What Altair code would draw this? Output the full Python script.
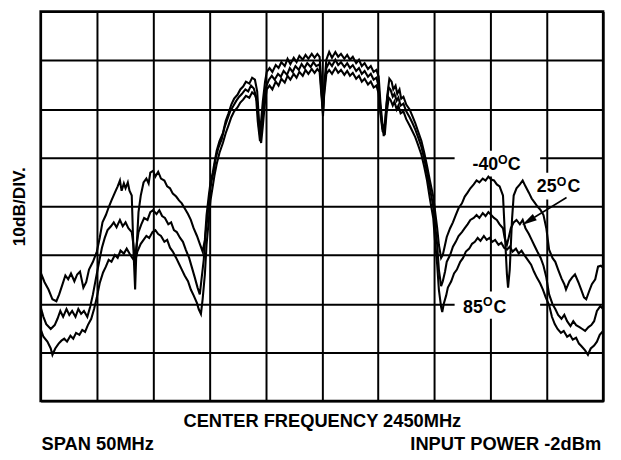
import altair as alt
import pandas as pd

FONT = "Liberation Sans"

# Spectrum traces: (frequency MHz, level dB, 10 dB/div, top of screen = 0 dB)
t40 = [(2425.0, -53.6), (2425.35, -55.6), (2425.7, -57.1), (2426.05, -59.1), (2426.4, -59.5), (2426.65, -58.1),
       (2426.95, -56.0), (2427.2, -54.2), (2427.45, -55.0), (2427.7, -53.8), (2428.0, -55.4), (2428.25, -54.0),
       (2428.5, -53.4), (2428.8, -56.7), (2429.05, -55.6), (2429.3, -53.0), (2429.65, -51.4), (2430.0, -49.3),
       (2430.25, -46.5), (2430.5, -43.3), (2430.8, -41.8), (2431.05, -40.2), (2431.3, -38.8), (2431.6, -37.2),
       (2431.85, -35.9), (2432.05, -34.7), (2432.2, -36.8), (2432.4, -35.3), (2432.55, -36.3), (2432.75, -35.1),
       (2432.9, -36.8), (2433.1, -37.8), (2433.25, -48.9), (2433.4, -57.1), (2433.5, -50.0), (2433.7, -41.2),
       (2433.9, -37.8), (2434.15, -35.1), (2434.4, -34.3), (2434.6, -35.3), (2434.75, -33.1), (2435.0, -32.7),
       (2435.2, -33.9), (2435.45, -32.9), (2435.7, -34.3), (2436.0, -34.7), (2436.25, -35.9), (2436.5, -36.3),
       (2436.75, -37.4), (2437.05, -38.0), (2437.3, -38.8), (2437.55, -39.4), (2437.8, -40.4), (2438.1, -41.6),
       (2438.35, -42.8), (2438.6, -44.5), (2438.9, -46.1), (2439.15, -47.7), (2439.4, -49.3), (2439.6, -46.9),
       (2439.75, -41.8), (2439.95, -37.8), (2440.1, -35.1), (2440.3, -33.1), (2440.45, -31.1), (2440.65, -28.6),
       (2440.9, -26.6), (2441.2, -25.0), (2441.45, -22.5), (2441.7, -20.9), (2441.95, -19.1), (2442.2, -17.9),
       (2442.5, -17.1), (2442.75, -16.0), (2443.0, -15.4), (2443.25, -14.4), (2443.55, -14.8), (2443.8, -13.6),
       (2444.05, -14.0), (2444.25, -16.4), (2444.4, -22.1), (2444.5, -25.0), (2444.6, -22.5), (2444.75, -18.5),
       (2444.95, -14.4), (2445.1, -12.4), (2445.35, -11.6), (2445.6, -12.4), (2445.9, -11.0), (2446.15, -11.6),
       (2446.4, -10.4), (2446.7, -11.2), (2446.95, -9.7), (2447.2, -10.8), (2447.5, -9.5), (2447.75, -10.4),
       (2448.0, -9.1), (2448.3, -9.9), (2448.55, -8.9), (2448.8, -9.7), (2449.1, -8.7), (2449.35, -9.5),
       (2449.6, -8.7), (2449.8, -9.3), (2449.95, -14.4), (2450.1, -21.5), (2450.2, -15.4), (2450.4, -9.9),
       (2450.65, -8.3), (2450.9, -9.5), (2451.2, -8.3), (2451.45, -9.3), (2451.7, -8.7), (2452.0, -9.7),
       (2452.25, -8.9), (2452.5, -9.9), (2452.75, -9.3), (2453.05, -10.6), (2453.3, -9.9), (2453.55, -11.2),
       (2453.8, -10.6), (2454.1, -11.8), (2454.35, -11.2), (2454.6, -12.4), (2454.85, -12.0), (2455.05, -13.4),
       (2455.2, -18.5), (2455.4, -23.6), (2455.5, -25.6), (2455.65, -22.5), (2455.8, -17.5), (2456.0, -13.8),
       (2456.2, -14.4), (2456.35, -16.0), (2456.55, -15.2), (2456.7, -16.9), (2456.9, -16.0), (2457.05, -17.9),
       (2457.25, -17.5), (2457.5, -19.1), (2457.8, -20.1), (2458.05, -21.5), (2458.3, -22.9), (2458.55, -24.6),
       (2458.85, -26.6), (2459.1, -29.0), (2459.35, -31.7), (2459.6, -34.7), (2459.9, -38.0), (2460.05, -40.8),
       (2460.25, -44.5), (2460.4, -47.9), (2460.6, -50.6), (2460.75, -50.0), (2460.95, -47.9), (2461.1, -46.3),
       (2461.4, -44.5), (2461.65, -43.3), (2461.9, -41.8), (2462.15, -40.4), (2462.45, -39.4), (2462.7, -38.0),
       (2462.95, -37.2), (2463.2, -36.3), (2463.5, -35.5), (2463.75, -34.7), (2464.0, -35.1), (2464.3, -34.3),
       (2464.55, -34.7), (2464.8, -33.9), (2465.05, -34.5), (2465.3, -34.7), (2465.55, -35.5), (2465.8, -35.9),
       (2466.1, -37.8), (2466.25, -44.9), (2466.45, -54.0), (2466.55, -56.7), (2466.7, -53.0), (2466.9, -42.8),
       (2467.05, -37.8), (2467.3, -36.3), (2467.6, -35.5), (2467.85, -34.7), (2468.1, -35.9), (2468.4, -37.2),
       (2468.65, -38.4), (2468.9, -39.2), (2469.15, -40.0), (2469.45, -40.8), (2469.7, -41.8), (2469.95, -44.5),
       (2470.2, -48.9), (2470.5, -50.6), (2470.75, -51.4), (2471.0, -53.0), (2471.3, -54.8), (2471.55, -56.0),
       (2471.7, -57.1), (2472.0, -55.4), (2472.25, -54.6), (2472.5, -54.0), (2472.8, -55.6), (2473.05, -57.1),
       (2473.3, -58.7), (2473.5, -59.1), (2473.75, -57.5), (2474.0, -56.0), (2474.3, -55.0), (2474.55, -52.4),
       (2474.8, -52.2), (2475.0, -52.6)]

t25 = [(2425.0, -60.7), (2425.25, -62.7), (2425.5, -64.2), (2425.9, -65.2), (2426.25, -64.4), (2426.5, -63.1),
       (2426.75, -61.5), (2427.0, -62.7), (2427.3, -61.1), (2427.55, -62.3), (2427.8, -61.5), (2428.1, -62.7),
       (2428.35, -61.1), (2428.6, -62.1), (2428.85, -61.5), (2429.15, -62.7), (2429.4, -60.7), (2429.65, -58.1),
       (2429.9, -55.0), (2430.2, -51.4), (2430.45, -48.5), (2430.7, -46.5), (2430.95, -44.9), (2431.25, -44.1),
       (2431.5, -43.3), (2431.75, -44.3), (2432.05, -42.8), (2432.3, -44.1), (2432.55, -43.3), (2432.8, -44.5),
       (2433.1, -45.3), (2433.25, -47.9), (2433.4, -51.4), (2433.5, -48.5), (2433.7, -45.3), (2433.95, -43.7),
       (2434.2, -42.4), (2434.5, -42.8), (2434.75, -41.2), (2435.0, -40.8), (2435.3, -41.6), (2435.55, -40.8),
       (2435.8, -42.0), (2436.05, -42.4), (2436.35, -43.7), (2436.6, -43.3), (2436.85, -44.9), (2437.1, -45.3),
       (2437.4, -46.5), (2437.65, -47.3), (2437.9, -48.9), (2438.2, -50.6), (2438.45, -52.6), (2438.7, -54.6),
       (2438.95, -56.7), (2439.15, -58.1), (2439.3, -55.0), (2439.5, -51.0), (2439.65, -45.9), (2439.85, -41.8),
       (2440.0, -37.8), (2440.2, -34.7), (2440.4, -32.7), (2440.55, -30.3), (2440.8, -28.0), (2441.1, -26.2),
       (2441.35, -23.8), (2441.6, -22.1), (2441.85, -20.5), (2442.15, -19.3), (2442.4, -18.3), (2442.65, -17.5),
       (2442.9, -16.9), (2443.2, -16.0), (2443.45, -16.4), (2443.7, -15.2), (2443.95, -15.8), (2444.15, -17.5),
       (2444.3, -22.5), (2444.5, -26.6), (2444.7, -22.9), (2444.85, -18.1), (2445.05, -15.4), (2445.3, -14.0),
       (2445.55, -13.2), (2445.8, -14.0), (2446.1, -12.8), (2446.35, -13.4), (2446.6, -12.2), (2446.9, -13.0),
       (2447.15, -11.6), (2447.4, -12.4), (2447.65, -11.2), (2447.95, -12.0), (2448.2, -10.8), (2448.45, -11.6),
       (2448.7, -10.6), (2449.0, -11.4), (2449.25, -10.4), (2449.5, -11.2), (2449.8, -10.8), (2449.95, -16.0),
       (2450.1, -20.5), (2450.2, -16.4), (2450.4, -11.6), (2450.65, -10.4), (2450.9, -11.2), (2451.2, -9.9),
       (2451.45, -11.0), (2451.7, -10.4), (2452.0, -11.4), (2452.25, -10.6), (2452.5, -11.6), (2452.75, -11.0),
       (2453.05, -12.2), (2453.3, -11.6), (2453.55, -12.8), (2453.8, -12.2), (2454.1, -13.4), (2454.35, -12.8),
       (2454.6, -14.0), (2454.85, -13.6), (2455.05, -15.4), (2455.2, -20.1), (2455.4, -24.2), (2455.6, -22.9),
       (2455.75, -18.9), (2455.95, -15.6), (2456.1, -16.0), (2456.3, -17.5), (2456.45, -16.9), (2456.65, -18.3),
       (2456.8, -17.7), (2457.0, -19.3), (2457.25, -18.9), (2457.5, -20.5), (2457.8, -21.7), (2458.05, -22.9),
       (2458.3, -24.2), (2458.55, -25.8), (2458.85, -27.8), (2459.1, -30.3), (2459.35, -33.1), (2459.6, -36.3),
       (2459.9, -40.0), (2460.05, -43.3), (2460.25, -47.9), (2460.4, -53.0), (2460.6, -56.4), (2460.75, -55.4),
       (2460.95, -53.4), (2461.1, -51.4), (2461.4, -50.0), (2461.65, -48.3), (2461.9, -47.3), (2462.15, -46.1),
       (2462.45, -45.3), (2462.7, -44.5), (2462.95, -43.7), (2463.2, -42.8), (2463.5, -42.4), (2463.75, -41.8),
       (2464.0, -42.4), (2464.3, -41.4), (2464.55, -42.0), (2464.8, -41.2), (2465.05, -41.8), (2465.3, -42.4),
       (2465.55, -42.8), (2465.8, -43.7), (2466.1, -44.5), (2466.25, -46.5), (2466.45, -47.9), (2466.6, -46.5),
       (2466.8, -44.5), (2467.05, -43.3), (2467.3, -42.8), (2467.6, -43.7), (2467.85, -42.8), (2468.1, -44.5),
       (2468.4, -45.7), (2468.65, -46.9), (2468.9, -48.1), (2469.15, -49.3), (2469.45, -50.6), (2469.7, -52.2),
       (2469.95, -54.6), (2470.2, -58.1), (2470.5, -60.1), (2470.75, -61.1), (2471.0, -62.3), (2471.3, -63.1),
       (2471.55, -62.3), (2471.8, -63.6), (2472.1, -64.6), (2472.35, -63.6), (2472.6, -64.4), (2472.9, -64.8),
       (2473.15, -65.2), (2473.4, -65.6), (2473.7, -64.8), (2473.95, -64.4), (2474.2, -63.6), (2474.45, -61.5),
       (2474.75, -60.5), (2475.0, -61.1)]

t85 = [(2425.0, -65.2), (2425.25, -66.8), (2425.6, -67.8), (2425.9, -69.2), (2426.05, -70.5), (2426.3, -69.2),
       (2426.6, -68.2), (2426.85, -67.6), (2427.1, -67.2), (2427.35, -67.8), (2427.65, -66.6), (2427.9, -67.2),
       (2428.15, -66.0), (2428.45, -66.4), (2428.7, -65.4), (2428.95, -65.8), (2429.2, -64.4), (2429.5, -63.1),
       (2429.75, -61.1), (2430.0, -58.7), (2430.25, -55.8), (2430.55, -53.6), (2430.8, -52.4), (2431.05, -51.0),
       (2431.3, -51.4), (2431.6, -50.0), (2431.85, -50.6), (2432.1, -49.1), (2432.4, -49.7), (2432.65, -48.7),
       (2432.9, -49.7), (2433.15, -50.6), (2433.4, -51.4), (2433.6, -49.3), (2433.9, -47.7), (2434.15, -46.9),
       (2434.4, -46.1), (2434.65, -46.5), (2434.95, -45.3), (2435.2, -44.9), (2435.45, -45.7), (2435.7, -46.1),
       (2436.0, -47.3), (2436.25, -46.9), (2436.5, -48.5), (2436.75, -49.3), (2437.05, -50.6), (2437.3, -51.8),
       (2437.55, -53.0), (2437.8, -54.2), (2438.1, -55.4), (2438.35, -57.1), (2438.6, -58.3), (2438.9, -59.9),
       (2439.05, -61.1), (2439.25, -62.1), (2439.4, -59.1), (2439.6, -54.0), (2439.75, -47.9), (2439.95, -42.8),
       (2440.1, -38.8), (2440.3, -35.9), (2440.45, -33.7), (2440.65, -31.3), (2440.9, -29.0), (2441.2, -27.0),
       (2441.45, -25.0), (2441.7, -23.4), (2441.95, -21.7), (2442.2, -20.5), (2442.5, -19.7), (2442.75, -18.7),
       (2443.0, -18.1), (2443.25, -17.3), (2443.55, -17.7), (2443.8, -16.6), (2444.05, -17.1), (2444.25, -18.5),
       (2444.4, -23.6), (2444.6, -27.0), (2444.75, -23.6), (2444.95, -18.5), (2445.1, -16.0), (2445.35, -15.2),
       (2445.6, -16.0), (2445.9, -14.4), (2446.15, -15.2), (2446.4, -13.8), (2446.7, -14.6), (2446.95, -13.2),
       (2447.2, -14.0), (2447.5, -12.8), (2447.75, -13.6), (2448.0, -12.4), (2448.3, -13.2), (2448.55, -12.0),
       (2448.8, -12.8), (2449.1, -11.8), (2449.35, -12.6), (2449.6, -11.8), (2449.8, -12.4), (2449.95, -16.9),
       (2450.1, -20.9), (2450.2, -17.3), (2450.4, -12.8), (2450.65, -12.0), (2450.9, -12.8), (2451.2, -11.6),
       (2451.45, -12.6), (2451.7, -12.0), (2452.0, -13.0), (2452.25, -12.2), (2452.5, -13.2), (2452.75, -12.6),
       (2453.05, -13.8), (2453.3, -13.2), (2453.55, -14.4), (2453.8, -13.8), (2454.1, -15.0), (2454.35, -14.4),
       (2454.6, -15.6), (2454.85, -15.2), (2455.05, -16.9), (2455.2, -20.9), (2455.4, -24.6), (2455.6, -25.0),
       (2455.75, -20.9), (2455.95, -17.7), (2456.1, -18.1), (2456.3, -19.3), (2456.45, -18.5), (2456.65, -20.1),
       (2456.8, -19.3), (2457.0, -20.9), (2457.25, -20.5), (2457.5, -22.1), (2457.8, -23.4), (2458.05, -24.6),
       (2458.3, -25.8), (2458.55, -27.4), (2458.85, -29.4), (2459.1, -31.9), (2459.35, -34.7), (2459.6, -38.4),
       (2459.9, -42.4), (2460.05, -46.9), (2460.25, -52.0), (2460.4, -57.1), (2460.6, -60.7), (2460.7, -61.7),
       (2460.85, -59.9), (2461.05, -58.3), (2461.2, -56.7), (2461.5, -55.4), (2461.75, -53.8), (2462.0, -53.0),
       (2462.3, -51.4), (2462.55, -50.6), (2462.8, -49.3), (2463.1, -48.7), (2463.35, -47.7), (2463.6, -47.3),
       (2463.85, -46.5), (2464.1, -47.1), (2464.4, -46.1), (2464.65, -46.9), (2464.9, -46.5), (2465.15, -47.3),
       (2465.4, -46.9), (2465.7, -47.9), (2465.95, -47.5), (2466.2, -48.5), (2466.45, -48.9), (2466.7, -48.3),
       (2466.95, -49.3), (2467.25, -48.7), (2467.5, -49.7), (2467.75, -49.1), (2468.05, -50.2), (2468.3, -51.0),
       (2468.6, -52.0), (2468.85, -53.4), (2469.1, -54.6), (2469.4, -55.8), (2469.65, -57.1), (2469.9, -58.7),
       (2470.2, -60.3), (2470.45, -62.7), (2470.7, -64.2), (2470.95, -65.2), (2471.25, -66.0), (2471.5, -65.6),
       (2471.8, -66.8), (2472.05, -66.4), (2472.3, -67.4), (2472.6, -67.0), (2472.85, -68.2), (2473.1, -68.8),
       (2473.4, -69.6), (2473.65, -70.5), (2473.9, -69.2), (2474.2, -68.6), (2474.45, -67.8), (2474.7, -66.4),
       (2475.0, -65.6)]

freq_grid = [2425, 2430, 2435, 2440, 2445, 2450, 2455, 2460, 2465, 2470, 2475]
level_grid = [-80, -70, -60, -50, -40, -30, -20, -10, 0]

label_num = ["-40", "25", "85"]
label_deg = ["O", "O", "O"]
label_c = ["C", "C", "C"]

rows = []
for name, pts in [("-40C", t40), ("25C", t25), ("85C", t85)]:
    for i, (f, p) in enumerate(pts):
        rows.append({"trace": name, "i": i, "freq": f, "level": p})
df = pd.DataFrame(rows)

xsc = alt.Scale(domain=[2425, 2475], nice=False, zero=False)
ysc = alt.Scale(domain=[-80, 0], nice=False, zero=False)

XAX = alt.Axis(
    values=freq_grid, grid=True, gridColor="black", gridWidth=2, gridOpacity=1,
    labels=False, ticks=False, domain=False,
    title="CENTER FREQUENCY 2450MHz", titleFont=FONT, titleFontSize=18.5,
    titleFontWeight="bold", titleColor="black", titlePadding=11)
YAX = alt.Axis(
    values=level_grid, grid=True, gridColor="black", gridWidth=2, gridOpacity=1,
    labels=False, ticks=False, domain=False,
    title="10dB/DIV.", titleFont=FONT, titleFontSize=17.5,
    titleFontWeight="bold", titleColor="black", titlePadding=12)


def X(field):
    return alt.X(field, scale=xsc, axis=XAX)


def Y(field):
    return alt.Y(field, scale=ysc, axis=YAX)


# white label patches (frequency / level extents)
boxes = pd.DataFrame({
    "f1": [2461.8, 2468.85, 2461.8],
    "f2": [2469.4, 2473.45, 2469.4],
    "l1": [-28.6, -33.1, -57.5],
    "l2": [-33.9, -38.6, -63.1],
})
box_layer = alt.Chart(boxes).mark_rect(fill="white").encode(
    x=X("f1:Q"), x2="f2:Q", y=Y("l1:Q"), y2="l2:Q",
)

lines = alt.Chart(df).mark_line(color="black", strokeWidth=2.1, clip=True).encode(
    x=X("freq:Q"), y=Y("level:Q"), detail="trace:N", order="i:Q",
)

labels = pd.DataFrame({
    "num": label_num, "deg": label_deg, "c": label_c,
    "f_num": [2465.68, 2470.87, 2464.31],
    "f_deg": [2466.08, 2471.31, 2464.75],
    "f_c": [2466.52, 2471.84, 2465.25],
    "l_base": [-32.55, -37.1, -61.9],
    "l_deg": [-31.4, -35.9, -60.5],
})
num_layer = alt.Chart(labels).mark_text(
    font=FONT, fontSize=18, fontWeight="bold", color="black", align="right", baseline="alphabetic"
).encode(x=X("f_num:Q"), y=Y("l_base:Q"), text="num:N")
deg_layer = alt.Chart(labels).mark_text(
    font=FONT, fontSize=12.5, fontWeight="bold", color="black", align="center", baseline="alphabetic"
).encode(x=X("f_deg:Q"), y=Y("l_deg:Q"), text="deg:N")
c_layer = alt.Chart(labels).mark_text(
    font=FONT, fontSize=18, fontWeight="bold", color="black", align="left", baseline="alphabetic"
).encode(x=X("f_c:Q"), y=Y("l_base:Q"), text="c:N")

arrow = pd.DataFrame({"f1": [2471.75], "l1": [-38.2], "f2": [2468.9], "l2": [-42.25],
                      "fh": [2468.36], "lh": [-43.05]})
arrow_line = alt.Chart(arrow).mark_rule(color="black", strokeWidth=1.6).encode(
    x=X("f1:Q"), x2="f2:Q", y=Y("l1:Q"), y2="l2:Q",
)
arrow_head = alt.Chart(arrow).mark_point(
    shape="M0,-1L0.5,1L-0.5,1Z", filled=True, color="black", opacity=1, size=230, angle=238
).encode(x=X("fh:Q"), y=Y("lh:Q"))

foot = pd.DataFrame({"left": ["SPAN 50MHz"], "right": ["INPUT POWER -2dBm"]})
foot_left = alt.Chart(foot).mark_text(
    font=FONT, fontSize=18.5, fontWeight="bold", color="black", align="left", baseline="alphabetic"
).encode(x=alt.value(1), y=alt.value(444), text="left:N")
foot_right = alt.Chart(foot).mark_text(
    font=FONT, fontSize=18.5, fontWeight="bold", color="black", align="right", baseline="alphabetic"
).encode(x=alt.value(567), y=alt.value(444), text="right:N")

chart = alt.layer(
    box_layer, lines, num_layer, deg_layer, c_layer, arrow_line, arrow_head, foot_left, foot_right
).properties(
    width=569, height=394,
    autosize=alt.AutoSizeParams(type="none"),
    padding={"left": 33, "top": 1, "right": 10, "bottom": 52},
    background="white",
).configure_view(stroke="black", strokeWidth=2.5)

chart.save("out.html", embed_options={"renderer": "svg", "actions": False})
